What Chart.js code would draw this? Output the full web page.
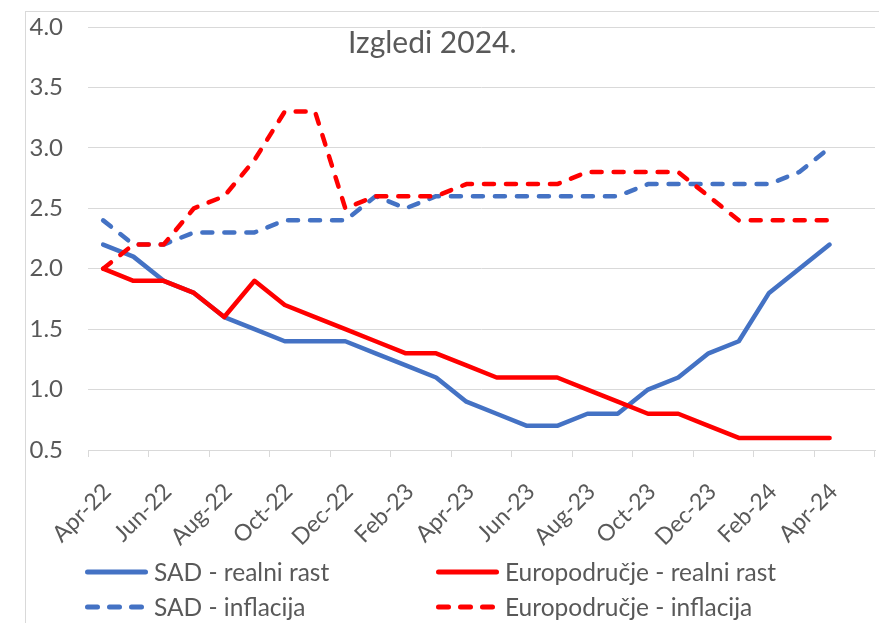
<!DOCTYPE html>
<html>
<head>
<meta charset="utf-8">
<script src="https://cdn.jsdelivr.net/npm/chart.js@4.4.1/dist/chart.umd.min.js"></script>
<style>
  body { margin: 0; background: #fff; }
  #wrap { position: relative; width: 879px; height: 623px; overflow: hidden; font-family: Lato, sans-serif; color: #595959; }
  #frame { position: absolute; left: 25px; top: 11px; width: 900px; height: 700px; border-left: 1px solid #d9d9d9; border-top: 1px solid #d9d9d9; }
  canvas { position: absolute; left: 0; top: 0; }
  #title { position: absolute; left: 348px; top: 26px; font-size: 30px; line-height: 30px; white-space: nowrap; }
  .legend-item { position: absolute; display: flex; align-items: center; height: 30px; font-size: 24.5px; line-height: 30px; white-space: nowrap; }
  .legend-item svg { margin-right: 6px; flex: none; }
</style>
</head>
<body>
<div id="wrap">
  <div id="frame"></div>
  <canvas id="chart" width="879" height="623"></canvas>
  <div id="title">Izgledi 2024.</div>
  <div id="legend"></div>
</div>
<script>
// monthly, Apr-22 .. May-24 (last month has no data)
const months = ["Apr-22", "May-22", "Jun-22", "Jul-22", "Aug-22", "Sep-22", "Oct-22", "Nov-22", "Dec-22",
  "Jan-23", "Feb-23", "Mar-23", "Apr-23", "May-23", "Jun-23", "Jul-23", "Aug-23", "Sep-23", "Oct-23",
  "Nov-23", "Dec-23", "Jan-24", "Feb-24", "Mar-24", "Apr-24", "May-24"];

const sadRast = [2.2, 2.1, 1.9, 1.8, 1.6, 1.5, 1.4, 1.4, 1.4, 1.3, 1.2, 1.1, 0.9, 0.8, 0.7, 0.7, 0.8, 0.8, 1.0, 1.1, 1.3, 1.4, 1.8, 2.0, 2.2];
const euroRast = [2.0, 1.9, 1.9, 1.8, 1.6, 1.9, 1.7, 1.6, 1.5, 1.4, 1.3, 1.3, 1.2, 1.1, 1.1, 1.1, 1.0, 0.9, 0.8, 0.8, 0.7, 0.6, 0.6, 0.6, 0.6];
const sadInfl = [2.4, 2.2, 2.2, 2.3, 2.3, 2.3, 2.4, 2.4, 2.4, 2.6, 2.5, 2.6, 2.6, 2.6, 2.6, 2.6, 2.6, 2.6, 2.7, 2.7, 2.7, 2.7, 2.7, 2.8, 3.0];
const euroInfl = [2.0, 2.2, 2.2, 2.5, 2.6, 2.9, 3.3, 3.3, 2.5, 2.6, 2.6, 2.6, 2.7, 2.7, 2.7, 2.7, 2.8, 2.8, 2.8, 2.8, 2.6, 2.4, 2.4, 2.4, 2.4];

const seriesNames = ["SAD - realni rast", "Europodručje - realni rast", "SAD - inflacija", "Europodručje - inflacija"];

const yMin = 0.5;
const yMax = 4.0;
const yStep = 0.5;

const BLUE = "#4472C4";
const RED = "#FF0000";
const GRID = "#D9D9D9";
const DASH = [10, 12];

Chart.defaults.font.family = "Lato, sans-serif";
Chart.defaults.color = "#595959";

const line = (label, data, color, dashed, order) => ({
  label,
  data,
  borderColor: color,
  backgroundColor: color,
  borderWidth: 4.5,
  borderDash: dashed ? DASH : [],
  borderCapStyle: "round",
  borderJoinStyle: "round",
  pointRadius: 0,
  tension: 0,
  fill: false,
  order,
});

const chart = new Chart(document.getElementById("chart"), {
  type: "line",
  data: {
    labels: months,
    datasets: [
      line(seriesNames[0], sadRast, BLUE, false, 4),
      line(seriesNames[1], euroRast, RED, false, 3),
      line(seriesNames[2], sadInfl, BLUE, true, 2),
      line(seriesNames[3], euroInfl, RED, true, 1),
    ],
  },
  options: {
    responsive: false,
    animation: false,
    layout: { padding: { top: 27, right: 4, bottom: 73, left: 0 } },
    plugins: {
      legend: { display: false },
      tooltip: { enabled: false },
    },
    scales: {
      x: {
        offset: true,
        grid: {
          offset: true,
          drawOnChartArea: false,
          drawTicks: true,
          tickLength: 7,
          // tick mark every second month, like the labels
          color: (ctx) => (ctx.index === undefined || ctx.index % 2 === 0 ? GRID : "rgba(0,0,0,0)"),
        },
        border: { display: true, color: GRID },
        ticks: {
          autoSkip: false,
          minRotation: 45,
          maxRotation: 45,
          padding: 21,
          labelOffset: 4,
          font: { size: 23 },
          callback: function (value, index) {
            return index % 2 === 0 ? this.getLabelForValue(value) : "";
          },
        },
        afterFit: (scale) => {
          scale.height = 100;
          scale.paddingLeft = 0;
          scale.paddingRight = 0;
        },
      },
      y: {
        min: yMin,
        max: yMax,
        grid: { color: GRID, drawTicks: false },
        border: { display: false },
        ticks: {
          stepSize: yStep,
          padding: 25,
          font: { size: 24 },
          callback: (v) => v.toFixed(1),
        },
        afterFit: (scale) => {
          scale.width = 88;
          scale.paddingTop = 0;
          scale.paddingBottom = 0;
        },
      },
    },
  },
});

// legend in two columns, as in the original
const legendCols = [85, 436];
const legendRows = [557, 592];
const legendBox = document.getElementById("legend");
chart.data.datasets.forEach((ds, i) => {
  const item = document.createElement("div");
  item.className = "legend-item";
  item.style.left = legendCols[i % 2] + "px";
  item.style.top = legendRows[Math.floor(i / 2)] + "px";
  const dashed = ds.borderDash.length > 0;
  const svg = '<svg width="63" height="10"><line x1="2.5" y1="5" x2="' + (dashed ? 56.5 : 60.5) +
    '" y2="5" stroke="' + ds.borderColor + '" stroke-width="5" stroke-linecap="round"' +
    (dashed ? ' stroke-dasharray="10 12"' : "") + "/></svg>";
  item.innerHTML = svg + "<span>" + ds.label + "</span>";
  legendBox.appendChild(item);
});
</script>
</body>
</html>
